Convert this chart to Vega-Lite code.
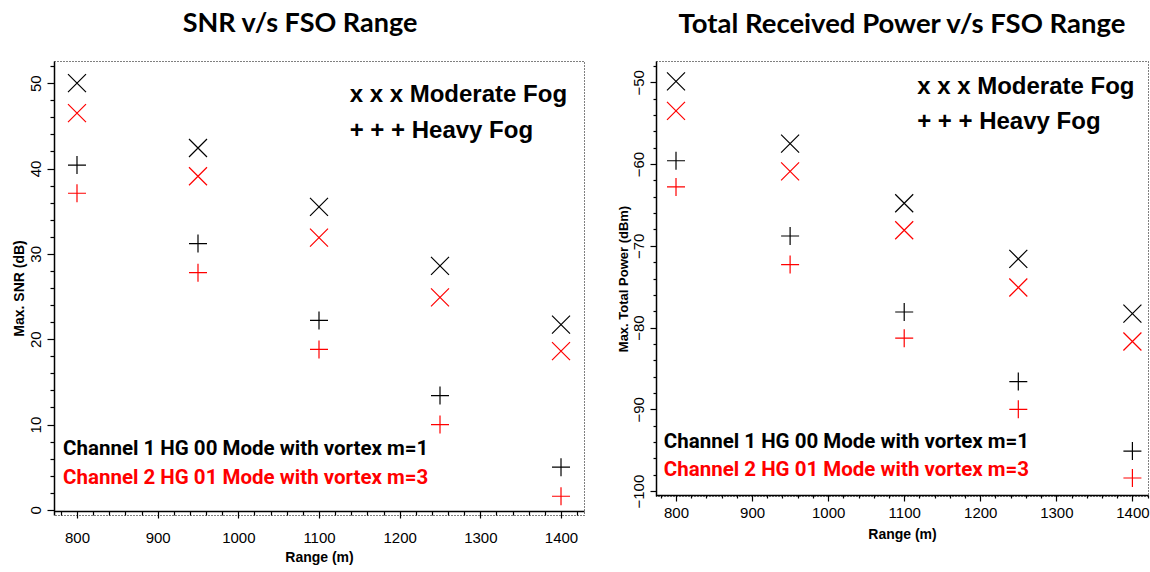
{
  "$schema": "https://vega.github.io/schema/vega-lite/v6.json",
  "background": "white",
  "padding": {"left": 11, "top": 9, "right": 0, "bottom": 0},
  "spacing": 31,
  "config": {
    "font": "Liberation Sans",
    "view": {"stroke": "#000", "strokeDash": [1, 2], "strokeWidth": 1},
    "axis": {"grid": false, "labelOverlap": false, "tickCount": 200, "format": "d", "domainColor": "#000", "tickColor": "#000", "labelColor": "#000", "titleColor": "#000", "labelFontSize": 15, "titleFontSize": 14, "titleFontWeight": "bold", "labelFont": "Liberation Sans", "titleFont": "Liberation Sans", "domainWidth": 1.5, "tickWidth": 1.2},
    "title": {"font": "Lato", "fontSize": 27, "fontWeight": "bold", "color": "#000", "anchor": "middle"}
  },
  "hconcat": [
    {
      "width": 530,
      "height": 454,
      "title": {"text": "SNR v/s FSO Range", "dx": -19, "offset": 23},
      "layer": [
        {
          "data": {"values": [
            {"range": 800, "value": 50.0, "channel": "Channel 1", "fog": "Moderate"},
            {"range": 800, "value": 46.5, "channel": "Channel 2", "fog": "Moderate"},
            {"range": 800, "value": 40.4, "channel": "Channel 1", "fog": "Heavy"},
            {"range": 800, "value": 37.1, "channel": "Channel 2", "fog": "Heavy"},
            {"range": 950, "value": 42.4, "channel": "Channel 1", "fog": "Moderate"},
            {"range": 950, "value": 39.1, "channel": "Channel 2", "fog": "Moderate"},
            {"range": 950, "value": 31.2, "channel": "Channel 1", "fog": "Heavy"},
            {"range": 950, "value": 27.8, "channel": "Channel 2", "fog": "Heavy"},
            {"range": 1100, "value": 35.5, "channel": "Channel 1", "fog": "Moderate"},
            {"range": 1100, "value": 31.9, "channel": "Channel 2", "fog": "Moderate"},
            {"range": 1100, "value": 22.2, "channel": "Channel 1", "fog": "Heavy"},
            {"range": 1100, "value": 18.8, "channel": "Channel 2", "fog": "Heavy"},
            {"range": 1250, "value": 28.6, "channel": "Channel 1", "fog": "Moderate"},
            {"range": 1250, "value": 24.9, "channel": "Channel 2", "fog": "Moderate"},
            {"range": 1250, "value": 13.4, "channel": "Channel 1", "fog": "Heavy"},
            {"range": 1250, "value": 10.0, "channel": "Channel 2", "fog": "Heavy"},
            {"range": 1400, "value": 21.7, "channel": "Channel 1", "fog": "Moderate"},
            {"range": 1400, "value": 18.6, "channel": "Channel 2", "fog": "Moderate"},
            {"range": 1400, "value": 5.0, "channel": "Channel 1", "fog": "Heavy"},
            {"range": 1400, "value": 1.6, "channel": "Channel 2", "fog": "Heavy"}
          ]},
          "mark": {"type": "point", "filled": false, "strokeWidth": 1.2, "size": 324, "opacity": 1},
          "encoding": {
            "x": {"field": "range", "type": "quantitative", "scale": {"domain": [771.5, 1428.5], "nice": false, "zero": false},
              "axis": {"title": "Range (m)", "values": [780,800,820,840,860,880,900,920,940,960,980,1000,1020,1040,1060,1080,1100,1120,1140,1160,1180,1200,1220,1240,1260,1280,1300,1320,1340,1360,1380,1400,1420], "labelExpr": "datum.value % 100 === 0 ? datum.label : ''", "format": "d", "tickSize": {"condition": {"test": "datum.value % 100 === 0", "value": 7}, "value": 4}, "labelPadding": 12, "titlePadding": 5, "offset": -4}},
            "y": {"field": "value", "type": "quantitative", "scale": {"domain": [-0.6, 52.6], "nice": false, "zero": false},
              "axis": {"title": "Max. SNR (dB)", "format": "d", "values": [0,2,4,6,8,10,12,14,16,18,20,22,24,26,28,30,32,34,36,38,40,42,44,46,48,50,52], "labelExpr": "datum.value % 10 === 0 ? datum.label : ''", "labelAngle": -90, "labelAlign": "center", "labelBaseline": "bottom", "tickSize": {"condition": {"test": "datum.value % 10 === 0", "value": 7}, "value": 4}, "labelPadding": 4, "titlePadding": 2}},
            "color": {"field": "channel", "type": "nominal", "scale": {"domain": ["Channel 1", "Channel 2"], "range": ["#000000", "#ff0000"]}, "legend": null},
            "shape": {"field": "fog", "type": "nominal", "scale": {"domain": ["Moderate", "Heavy"], "range": ["M-1,-1L1,1M-1,1L1,-1", "M-1,0L1,0M0,-1L0,1"]}, "legend": null}
          }
        },
        {
          "data": {"values": [
            {"range": 1138, "value": 48.6, "label": "x x x Moderate Fog", "channel": "Channel 1"},
            {"range": 1138, "value": 44.4, "label": "+ + + Heavy Fog", "channel": "Channel 1"}
          ]},
          "mark": {"type": "text", "align": "left", "baseline": "middle", "fontWeight": "bold", "fontSize": 24, "font": "Liberation Sans"},
          "encoding": {
            "x": {"field": "range", "type": "quantitative"},
            "y": {"field": "value", "type": "quantitative"},
            "text": {"field": "label"},
            "color": {"field": "channel", "type": "nominal", "legend": null}
          }
        },
        {
          "data": {"values": [
            {"range": 782.7, "value": 7.1, "label": "Channel 1 HG 00 Mode with vortex m=1", "channel": "Channel 1"},
            {"range": 782.7, "value": 3.7, "label": "Channel 2 HG 01 Mode with vortex m=3", "channel": "Channel 2"}
          ]},
          "mark": {"type": "text", "align": "left", "baseline": "middle", "fontWeight": "bold", "fontSize": 20.5, "font": "Roboto"},
          "encoding": {
            "x": {"field": "range", "type": "quantitative"},
            "y": {"field": "value", "type": "quantitative"},
            "text": {"field": "label"},
            "color": {"field": "channel", "type": "nominal", "legend": null}
          }
        }
      ]
    },
    {
      "width": 492,
      "height": 435,
      "title": {"text": "Total Received Power v/s FSO Range", "offset": 21, "fontSize": 27.5, "dy": -2},
      "layer": [
        {
          "data": {"values": [
            {"range": 800, "value": -49.9, "channel": "Channel 1", "fog": "Moderate"},
            {"range": 800, "value": -53.5, "channel": "Channel 2", "fog": "Moderate"},
            {"range": 800, "value": -59.6, "channel": "Channel 1", "fog": "Heavy"},
            {"range": 800, "value": -62.8, "channel": "Channel 2", "fog": "Heavy"},
            {"range": 950, "value": -57.5, "channel": "Channel 1", "fog": "Moderate"},
            {"range": 950, "value": -60.9, "channel": "Channel 2", "fog": "Moderate"},
            {"range": 950, "value": -68.8, "channel": "Channel 1", "fog": "Heavy"},
            {"range": 950, "value": -72.3, "channel": "Channel 2", "fog": "Heavy"},
            {"range": 1100, "value": -64.8, "channel": "Channel 1", "fog": "Moderate"},
            {"range": 1100, "value": -68.1, "channel": "Channel 2", "fog": "Moderate"},
            {"range": 1100, "value": -78.1, "channel": "Channel 1", "fog": "Heavy"},
            {"range": 1100, "value": -81.3, "channel": "Channel 2", "fog": "Heavy"},
            {"range": 1250, "value": -71.6, "channel": "Channel 1", "fog": "Moderate"},
            {"range": 1250, "value": -75.1, "channel": "Channel 2", "fog": "Moderate"},
            {"range": 1250, "value": -86.6, "channel": "Channel 1", "fog": "Heavy"},
            {"range": 1250, "value": -90.0, "channel": "Channel 2", "fog": "Heavy"},
            {"range": 1400, "value": -78.3, "channel": "Channel 1", "fog": "Moderate"},
            {"range": 1400, "value": -81.7, "channel": "Channel 2", "fog": "Moderate"},
            {"range": 1400, "value": -95.1, "channel": "Channel 1", "fog": "Heavy"},
            {"range": 1400, "value": -98.4, "channel": "Channel 2", "fog": "Heavy"}
          ]},
          "mark": {"type": "point", "filled": false, "strokeWidth": 1.2, "size": 324, "opacity": 1},
          "encoding": {
            "x": {"field": "range", "type": "quantitative", "scale": {"domain": [773.7, 1420.5], "nice": false, "zero": false},
              "axis": {"title": "Range (m)", "values": [780,800,820,840,860,880,900,920,940,960,980,1000,1020,1040,1060,1080,1100,1120,1140,1160,1180,1200,1220,1240,1260,1280,1300,1320,1340,1360,1380,1400,1420], "labelExpr": "datum.value % 100 === 0 ? datum.label : ''", "format": "d", "tickSize": {"condition": {"test": "datum.value % 100 === 0", "value": 6}, "value": 3}, "labelPadding": 4, "titlePadding": 7, "offset": -1}},
            "y": {"field": "value", "type": "quantitative", "scale": {"domain": [-100.6, -47.4], "nice": false, "zero": false},
              "axis": {"title": "Max. Total Power (dBm)", "format": "d", "values": [-100,-98,-96,-94,-92,-90,-88,-86,-84,-82,-80,-78,-76,-74,-72,-70,-68,-66,-64,-62,-60,-58,-56,-54,-52,-50,-48], "labelExpr": "datum.value % 10 === 0 ? datum.label : ''", "labelAngle": -90, "labelAlign": "center", "labelBaseline": "bottom", "tickSize": {"condition": {"test": "datum.value % 10 === 0", "value": 6}, "value": 3}, "labelPadding": 4, "titlePadding": 1, "titleFontSize": 13}},
            "color": {"field": "channel", "type": "nominal", "scale": {"domain": ["Channel 1", "Channel 2"], "range": ["#000000", "#ff0000"]}, "legend": null},
            "shape": {"field": "fog", "type": "nominal", "scale": {"domain": ["Moderate", "Heavy"], "range": ["M-1,-1L1,1M-1,1L1,-1", "M-1,0L1,0M0,-1L0,1"]}, "legend": null}
          }
        },
        {
          "data": {"values": [
            {"range": 1117, "value": -50.6, "label": "x x x Moderate Fog", "channel": "Channel 1"},
            {"range": 1117, "value": -54.9, "label": "+ + + Heavy Fog", "channel": "Channel 1"}
          ]},
          "mark": {"type": "text", "align": "left", "baseline": "middle", "fontWeight": "bold", "fontSize": 24, "font": "Liberation Sans"},
          "encoding": {
            "x": {"field": "range", "type": "quantitative"},
            "y": {"field": "value", "type": "quantitative"},
            "text": {"field": "label"},
            "color": {"field": "channel", "type": "nominal", "legend": null}
          }
        },
        {
          "data": {"values": [
            {"range": 784, "value": -94.0, "label": "Channel 1 HG 00 Mode with vortex m=1", "channel": "Channel 1"},
            {"range": 784, "value": -97.4, "label": "Channel 2 HG 01 Mode with vortex m=3", "channel": "Channel 2"}
          ]},
          "mark": {"type": "text", "align": "left", "baseline": "middle", "fontWeight": "bold", "fontSize": 20.5, "font": "Roboto"},
          "encoding": {
            "x": {"field": "range", "type": "quantitative"},
            "y": {"field": "value", "type": "quantitative"},
            "text": {"field": "label"},
            "color": {"field": "channel", "type": "nominal", "legend": null}
          }
        }
      ]
    }
  ]
}
